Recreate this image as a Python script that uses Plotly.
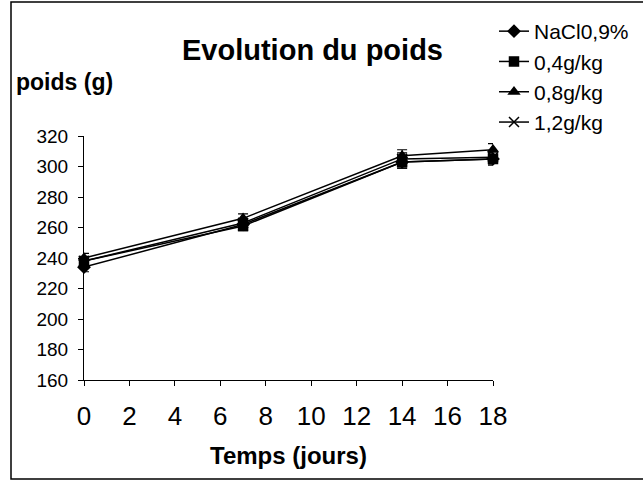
import plotly.graph_objects as go

jours = [0, 7, 14, 18]
series_names = ["NaCl0,9%", "0,4g/kg", "0,8g/kg", "1,2g/kg"]
nacl = [234, 262, 303, 305]
dose04 = [238, 261, 303, 305]
dose08 = [240, 266, 307, 311]
dose12 = [238, 263, 305, 306]
err = [3, 3, 4, 4]
x_ticks = [0, 2, 4, 6, 8, 10, 12, 14, 16, 18]
y_ticks = [160, 180, 200, 220, 240, 260, 280, 300, 320]

symbols = ["diamond", "square", "triangle-up", "x-thin"]
values = [nacl, dose04, dose08, dose12]

L, R, T, B = 84, 493, 136, 380
W, H = 643, 481
pw, ph = R - L, B - T

def px(xp):
    return (xp - L) / pw

def py(yp):
    return (B - yp) / ph

fig = go.Figure()
for name, vals, sym in zip(series_names, values, symbols):
    fig.add_trace(go.Scatter(
        x=jours, y=vals, name=name, mode="lines+markers",
        line=dict(color="black", width=1.5),
        marker=dict(symbol=sym, size=9 if sym != "x-thin" else 10, color="black",
                    line=dict(color="black", width=1.5)),
        error_y=dict(type="data", array=err, color="black", thickness=1.2, width=5),
        cliponaxis=False,
    ))

fig.update_layout(
    width=W, height=H,
    margin=dict(l=L, r=W - R, t=T, b=H - B, autoexpand=False),
    paper_bgcolor="white", plot_bgcolor="white",
    font=dict(family="Liberation Sans, Arial, sans-serif", color="black"),
    showlegend=True,
    legend=dict(x=px(494), y=py(11), xanchor="left", yanchor="top",
                font=dict(size=21, color="black"), bgcolor="rgba(0,0,0,0)",
                tracegroupgap=0, itemwidth=30),
    xaxis=dict(range=[0, 18], tickvals=x_ticks, showgrid=False, zeroline=False,
               showline=True, linecolor="black", linewidth=1,
               ticks="outside", ticklen=5, tickcolor="black", automargin=False,
               tickfont=dict(size=26), ticklabelstandoff=8),
    yaxis=dict(range=[160, 320], tickvals=y_ticks, showgrid=False, zeroline=False,
               showline=True, linecolor="black", linewidth=1,
               ticks="outside", ticklen=5, tickcolor="black", automargin=False,
               tickfont=dict(size=19), ticklabelstandoff=6),
    annotations=[
        dict(text="<b>Evolution du poids</b>", x=px(312), y=py(50), xref="paper", yref="paper",
             showarrow=False, font=dict(size=29), xanchor="center", yanchor="middle"),
        dict(text="<b>poids (g)</b>", x=px(14), y=py(82), xref="paper", yref="paper",
             showarrow=False, font=dict(size=23), xanchor="left", yanchor="middle"),
        dict(text="<b>Temps (jours)</b>", x=px(288), y=py(455), xref="paper", yref="paper",
             showarrow=False, font=dict(size=24), xanchor="center", yanchor="middle"),
    ],
    shapes=[dict(type="rect", xref="paper", yref="paper",
                 x0=px(11), x1=px(646), y0=py(479), y1=py(2),
                 line=dict(color="black", width=1.5))],
)

fig.write_html("out.html", config={"displayModeBar": False},
               post_script="document.body.style.margin='0px';")
